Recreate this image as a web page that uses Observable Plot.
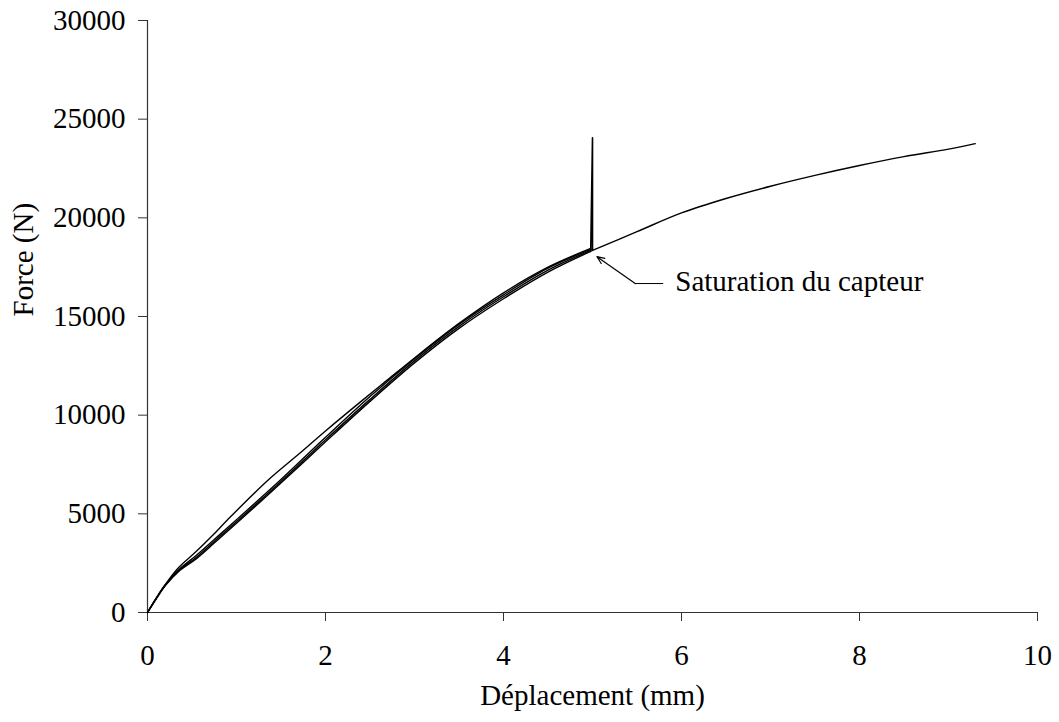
<!DOCTYPE html>
<html>
<head>
<meta charset="utf-8">
<script src="https://cdn.jsdelivr.net/npm/d3@7"></script>
<script src="https://cdn.jsdelivr.net/npm/@observablehq/plot@0.6"></script>
<style>
  html, body { margin: 0; padding: 0; background: #fff; }
</style>
</head>
<body>
<div id="chart"></div>
<script>
// Tick values
const xTicks = [0, 2, 4, 6, 8, 10];
const yTicks = [0, 5000, 10000, 15000, 20000, 25000, 30000];

// Test 1 (upper curve)
const c1X = [0, 0.1, 0.2, 0.35, 0.54, 0.73, 0.9, 1.35, 1.7, 2, 2.4, 2.7, 3, 3.5, 4, 4.5, 4.98];
const c1Y = [0, 740, 1420, 2280, 3060, 3900, 4700, 6690, 8030, 9200, 10700, 11800, 12900, 14650, 16200, 17500, 18450];
// Tests 2-4 (lower bunch)
const cLX = [0, 0.1, 0.2, 0.35, 0.55, 0.75, 1, 1.49, 2, 2.5, 3, 3.5, 4, 4.5, 4.98];
const c2Y = [0, 740, 1400, 2160, 2900, 3700, 4700, 6700, 8880, 10950, 12850, 14600, 16100, 17450, 18400];
const c3Y = [0, 720, 1380, 2120, 2800, 3600, 4600, 6600, 8750, 10800, 12750, 14500, 16000, 17350, 18350];
const c4Y = [0, 700, 1360, 2080, 2730, 3520, 4520, 6520, 8650, 10700, 12650, 14400, 15900, 17250, 18300];
// Saturation spike
const spikeX = [4.98, 5.0, 5.0];
const spikeY = [18300, 24050, 18350];
// Continuation after saturation
const contX = [5.0, 5.5, 6, 6.5, 7, 7.5, 8, 8.5, 9, 9.3];
const contY = [18350, 19300, 20250, 20980, 21600, 22150, 22650, 23100, 23480, 23760];

// Annotation
const annotText = "Saturation du capteur";
const annotLineX = [5.79, 5.48];
const annotLineY = [16670, 16670];
const annotArrowX = [5.48, 5.05];
const annotArrowY = [16670, 18030];
const annotLabelX = 5.93;
const annotLabelY = 16770;

const xLabel = "Déplacement (mm)";
const yLabel = "Force (N)";

function toRows(id, xs, ys) { return xs.map((x, i) => ({id, x, y: ys[i]})); }
const smoothRows = [
  ...toRows("c1", c1X, c1Y),
  ...toRows("c2", cLX, c2Y),
  ...toRows("c3", cLX, c3Y),
  ...toRows("c4", cLX, c4Y),
  ...toRows("cont", contX, contY)
];
const spikeRows = toRows("spike", spikeX, spikeY);
const annotLineRows = toRows("a", annotLineX, annotLineY);
const annotArrow = [{x1: annotArrowX[0], y1: annotArrowY[0], x2: annotArrowX[1], y2: annotArrowY[1]}];

const FONT = "'Liberation Serif', 'Times New Roman', Times, serif";
const fmt = d => String(d);

const chart = Plot.plot({
  width: 1059,
  height: 722,
  marginLeft: 147,
  marginRight: 22,
  marginTop: 20,
  marginBottom: 110,
  style: {fontFamily: FONT, fontSize: "29px", background: "#fff", color: "#000"},
  x: {domain: [0, 10]},
  y: {domain: [0, 30000]},
  marks: [
    Plot.axisX({ticks: xTicks, tickSize: 9, tickPadding: 23, tickFormat: fmt, label: null, fontSize: 29, stroke: "#333"}),
    Plot.axisY({ticks: yTicks, tickSize: 9, tickPadding: 13, tickFormat: fmt, label: null, fontSize: 29, stroke: "#333"}),
    Plot.ruleX([0], {y1: 0, y2: 30000, stroke: "#333", strokeWidth: 1.2}),
    Plot.ruleY([0], {x1: 0, x2: 10, stroke: "#333", strokeWidth: 1.2}),
    Plot.line(smoothRows, {x: "x", y: "y", z: "id", stroke: "#000", strokeWidth: 1.4, curve: "catmull-rom"}),
    Plot.line(spikeRows, {x: "x", y: "y", stroke: "#000", strokeWidth: 1.6, curve: "linear"}),
    Plot.line(annotLineRows, {x: "x", y: "y", stroke: "#000", strokeWidth: 1}),
    Plot.arrow(annotArrow, {x1: "x1", y1: "y1", x2: "x2", y2: "y2", stroke: "#000", strokeWidth: 1.2, headLength: 10, headAngle: 45}),
    Plot.text([annotText], {x: annotLabelX, y: annotLabelY, text: d => d, textAnchor: "start", fontSize: 29, fill: "#000"}),
    Plot.text([xLabel], {frameAnchor: "bottom", dy: 92, text: d => d, fontSize: 29, fill: "#000"}),
    Plot.text([yLabel], {frameAnchor: "left", dx: -124, rotate: -90, text: d => d, fontSize: 29, fill: "#000"})
  ]
});
document.getElementById("chart").appendChild(chart);
</script>
</body>
</html>
